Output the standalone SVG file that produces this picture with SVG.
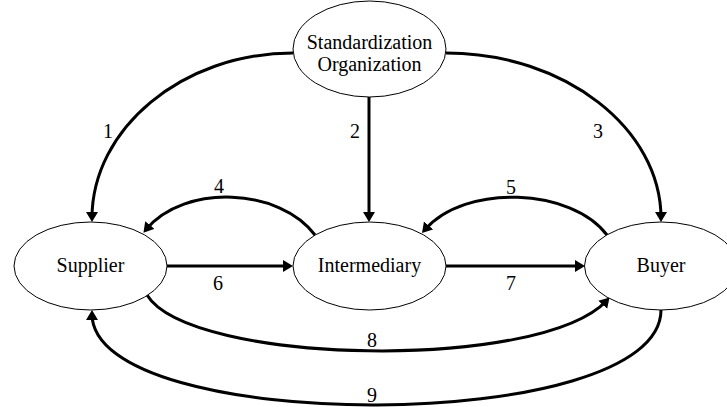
<svg xmlns="http://www.w3.org/2000/svg" width="727" height="407" viewBox="0 0 727 407">
<style>
.node ellipse{fill:#fff;stroke:#000;stroke-width:1}
.edge{fill:none;stroke:#000;stroke-width:3}
text{font-family:"Liberation Serif","Times New Roman",serif;font-size:20px;text-anchor:middle;fill:#000}
</style>
<defs>
<marker id="ah" markerUnits="userSpaceOnUse" markerWidth="12" markerHeight="13" refX="6" refY="6" orient="auto">
<path d="M0,0 L10,6 L0,12 z" fill="#000"/>
</marker>
</defs>
<rect width="727" height="407" fill="#fff"/>
<g id="connectors">
<path class="edge" marker-end="url(#ah)" d="M293,53 C182,53 92,129 92,218"/>
<path class="edge" marker-end="url(#ah)" d="M369,97 L369,218"/>
<path class="edge" marker-end="url(#ah)" d="M446,53 C565,53 661,129 661,218"/>
<path class="edge" marker-end="url(#ah)" d="M315,235 C280,188 185,183 146,229.6"/>
<path class="edge" marker-end="url(#ah)" d="M607,235 C572,188 465,183 424.6,230"/>
<path class="edge" marker-end="url(#ah)" d="M167,266 L289,266"/>
<path class="edge" marker-end="url(#ah)" d="M446,266 L581,266"/>
<path class="edge" marker-end="url(#ah)" d="M147,295 C190,365 540,372 606.8,300.4"/>
<path class="edge" marker-end="url(#ah)" d="M661,310 C661,436 92,436 92,314"/>
<text x="108" y="138">1</text>
<text x="355" y="138">2</text>
<text x="598" y="138">3</text>
<text x="219" y="193">4</text>
<text x="511" y="194">5</text>
<text x="218" y="290">6</text>
<text x="511" y="290">7</text>
<text x="372" y="347">8</text>
<text x="372" y="402">9</text>
</g>
<g id="standardization" class="node">
<ellipse cx="369.5" cy="49" rx="76.5" ry="48"/>
<text x="369.5" y="49">Standardization</text>
<text x="369.5" y="71">Organization</text>
</g>
<g id="supplier" class="node">
<ellipse cx="90.5" cy="266" rx="76.5" ry="44"/>
<text x="90.5" y="272">Supplier</text>
</g>
<g id="intermediary" class="node">
<ellipse cx="369.5" cy="266" rx="76.5" ry="44"/>
<text x="369.5" y="272">Intermediary</text>
</g>
<g id="buyer" class="node">
<ellipse cx="661" cy="266" rx="76.5" ry="44"/>
<text x="661" y="272">Buyer</text>
</g>
</svg>
